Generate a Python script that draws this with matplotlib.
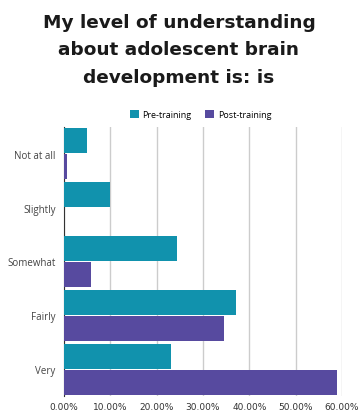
import numpy as np
import matplotlib.pyplot as plt
from matplotlib.ticker import FuncFormatter

categories = ["Not at all", "Slightly", "Somewhat", "Fairly", "Very"]
pre_training = [5.0, 10.0, 24.4, 37.2, 23.1]
post_training = [0.7, 0.0, 5.8, 34.6, 58.9]
x_ticks = [0, 10, 20, 30, 40, 50, 60]

teal = "#1192AD"
purple = "#574A9F"

fig = plt.figure(figsize=(3.58, 4.14), dpi=100)
ax = fig.add_axes([0.179, 0.041, 0.776, 0.65])

y = np.arange(len(categories))
h = 0.465
ax.barh(y - h / 2 - 0.01, pre_training, height=h, color=teal, label="Pre-training", zorder=3)
ax.barh(y + h / 2 + 0.01, post_training, height=h, color=purple, label="Post-training", zorder=3)

ax.set_ylim(len(categories) - 0.5, -0.5)
ax.set_xlim(0, 60)
ax.set_yticks(y)
ax.set_yticklabels(categories, fontsize=7, color="#444444", family="Open Sans")
ax.set_xticks(x_ticks)
ax.xaxis.set_major_formatter(FuncFormatter(lambda v, p: f"{v:.2f}%"))
ax.tick_params(axis="x", labelsize=6.5, colors="#333333", length=0, pad=4)
ax.tick_params(axis="y", length=0, pad=6)
ax.grid(axis="x", color="#cccccc", linewidth=1, zorder=0)
for s in ["top", "right", "bottom"]:
    ax.spines[s].set_visible(False)
ax.spines["left"].set_color("#333333")
ax.spines["left"].set_linewidth(0.8)

fig.text(0.5, 0.967, "My level of understanding\nabout adolescent brain\ndevelopment is: is",
         ha="center", va="top", fontsize=13.3, fontweight="bold", color="#1a1a1a",
         linespacing=1.68, family="DejaVu Sans")

fig.legend(loc="center", bbox_to_anchor=(0.56, 0.722), ncol=2, frameon=False,
           handlelength=1.0, handleheight=1.0, columnspacing=1.5,
           handletextpad=0.4, prop={"family": "Open Sans", "size": 6.5})

plt.savefig("out.png", dpi=100)
